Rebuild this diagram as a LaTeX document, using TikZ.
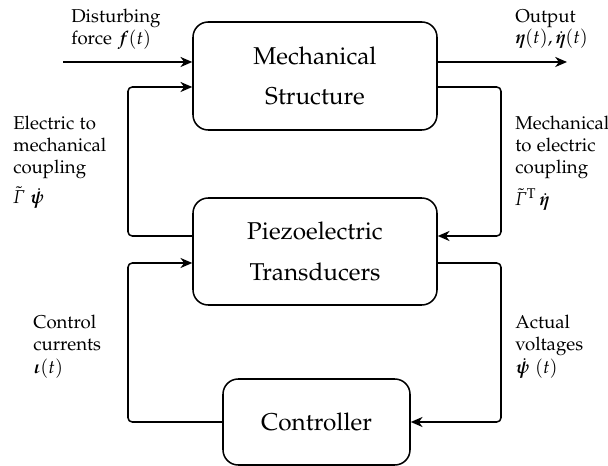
\documentclass[tikz,border=0pt]{standalone}
\usepackage[T1]{fontenc}
\usepackage{amsmath}
\usepackage[sc]{mathpazo}
\usepackage{bm}
\usetikzlibrary{arrows.meta,positioning,calc}

\def\px{0.5917pt}
\tikzset{
  block/.style={draw, line width=0.9pt, rounded corners=9pt, align=center,
    font=\Large, inner sep=0pt},
  flow/.style={line width=0.9pt, ->, rounded corners=2.5pt},
  sig/.style={align=left, anchor=north west, inner sep=0pt,
    font=\fontsize{11}{12.8}\selectfont}
}

\begin{document}
\begin{tikzpicture}[x=\px, y=-\px, >={Stealth[length=7pt,width=6pt,inset=2.2pt]}]
\useasboundingbox (0,0) rectangle (608,466);

% blocks
\node[block, minimum width=244*\px, minimum height=108*\px] (mech) at (315,76)
  {Mechanical\\[6pt]Structure};
\node[block, minimum width=244*\px, minimum height=107*\px] (piezo) at (315,251.5)
  {Piezoelectric\\[6pt]Transducers};
\node[block, minimum width=187*\px, minimum height=86*\px] (ctrl) at (316.5,422)
  {Controller};

% free ends and corners
\coordinate (fin) at (63,62);
\coordinate (fout) at (567,62);
\coordinate (lup) at (128,87);
\coordinate (llo) at (128,263);
\coordinate (rup) at (501,236);
\coordinate (rlo) at (501,422);

% connectors
\draw[flow] (fin) -- (fin -| mech.west);
\draw[flow] (mech.east |- fout) -- (fout);
\draw[flow] (piezo.west |- 0,236) -| (lup) -- (mech.west |- lup);
\draw[flow] (mech.east |- lup) -| (rup) -- (piezo.east |- rup);
\draw[flow] (piezo.east |- llo) -| (rlo) -- (ctrl.east);
\draw[flow] (ctrl.west) -| (llo) -- (piezo.west |- llo);

% signal labels
\node[sig] (dist) at (71,9) {Disturbing\\force $\bm{f}(t)$};
\node[sig] (outp) at (515,9) {Output\\$\bm{\eta}(t),\dot{\bm{\eta}}(t)$};
\node[sig] (e2m) at (13,116) {Electric to\\mechanical\\coupling\\[5pt]$\tilde{\mathit{\Gamma}}\;\dot{\bm{\psi}}$};
\node[sig] (m2e) at (515,116) {Mechanical\\to electric\\coupling\\[5pt]$\tilde{\mathit{\Gamma}}^{\mathrm{T}}\,\dot{\bm{\eta}}$};
\node[sig] (cur) at (33,315) {Control\\currents\\[1pt]$\bm{\iota}(t)$};
\node[sig] (volt) at (515,315) {Actual\\voltages\\[1pt]$\dot{\bm{\psi}}\;(t)$};
\end{tikzpicture}
\end{document}
